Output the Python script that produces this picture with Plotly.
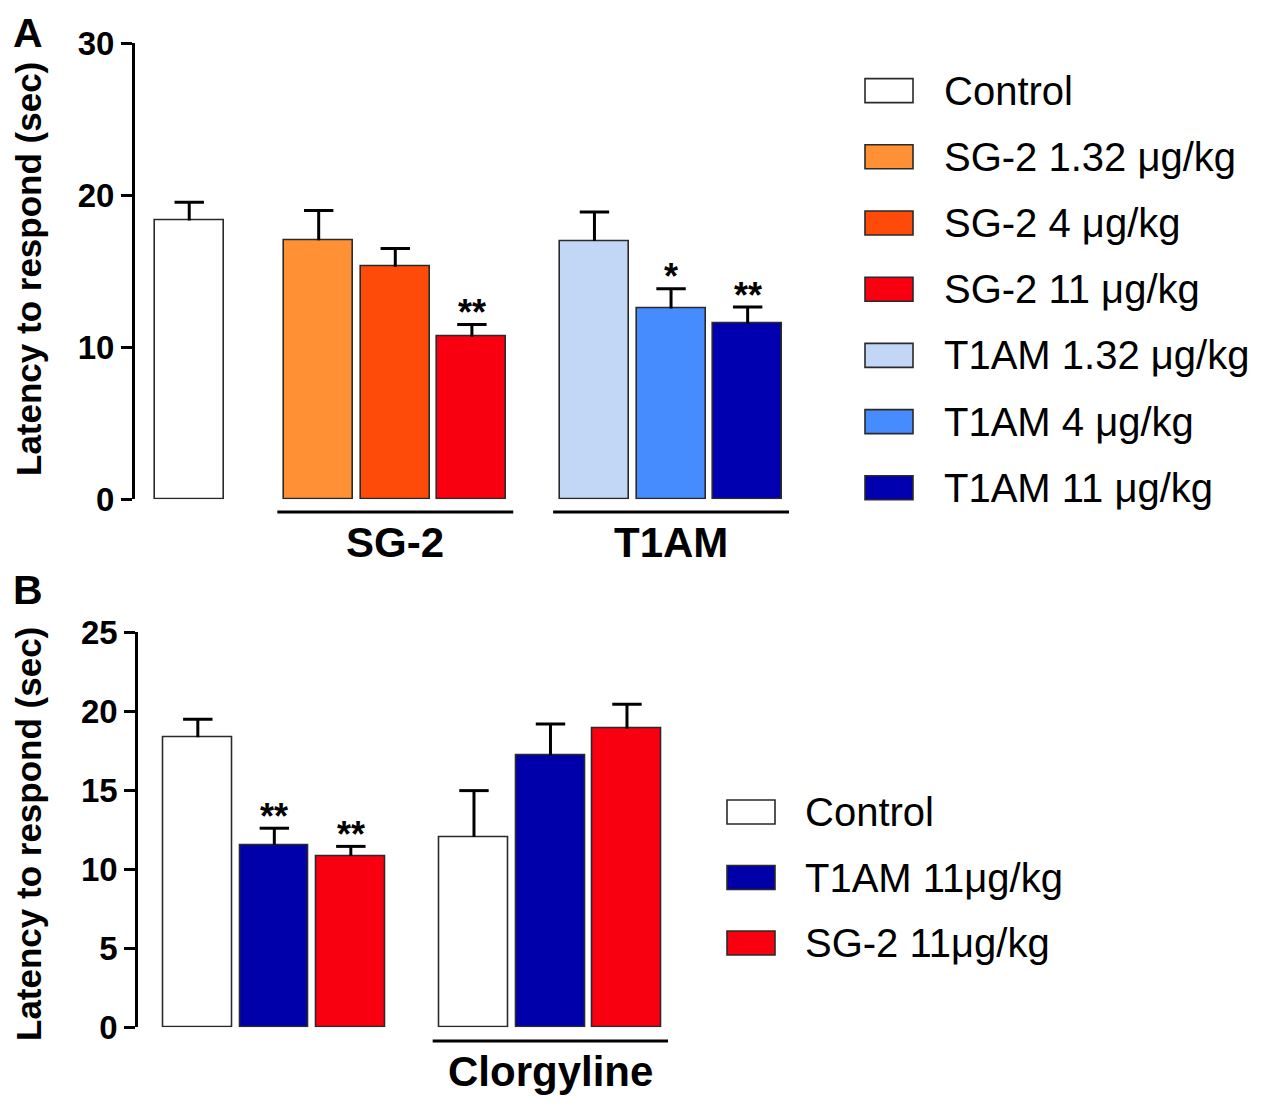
import plotly.graph_objects as go

W, H = 1267, 1107          # target picture size
OFF = 8                    # page body margin of the html page
FW, FH = W - 2 * OFF, H - 2 * OFF   # figure size
FONT = "Arial, Liberation Sans, Helvetica, sans-serif"

# ---------------- Data: panel A ----------------
a_labels = ["Control", "SG-2 1.32 μg/kg", "SG-2 4 μg/kg", "SG-2 11 μg/kg",
            "T1AM 1.32 μg/kg", "T1AM 4 μg/kg", "T1AM 11 μg/kg"]
a_groups = ["", "SG-2", "SG-2", "SG-2", "T1AM", "T1AM", "T1AM"]
a_means = [18.35, 17.05, 15.3, 10.7, 17.0, 12.55, 11.55]
a_sem = [1.2, 1.95, 1.2, 0.8, 1.9, 1.3, 1.1]
a_stars = ["", "", "", "**", "", "*", "**"]
a_colors = ["#FFFFFF", "#FF9033", "#FF4B0A", "#F8000F",
            "#C2D7F6", "#468CFF", "#0000B0"]
a_ticks = [0, 10, 20, 30]

# ---------------- Data: panel B ----------------
b_labels = ["Control", "T1AM 11μg/kg", "SG-2 11μg/kg",
            "Control", "T1AM 11μg/kg", "SG-2 11μg/kg"]
b_groups = ["", "", "", "Clorgyline", "Clorgyline", "Clorgyline"]
b_means = [18.35, 11.55, 10.85, 12.05, 17.2, 18.9]
b_sem = [1.15, 1.05, 0.6, 2.93, 2.0, 1.55]
b_stars = ["", "**", "**", "", "", ""]
b_colors = ["#FFFFFF", "#0000AA", "#F8000F", "#FFFFFF", "#0000AA", "#F8000F"]
b_ticks = [0, 5, 10, 15, 20, 25]
b_legend_labels = ["Control", "T1AM 11μg/kg", "SG-2 11μg/kg"]
b_legend_colors = ["#FFFFFF", "#0000AA", "#F8000F"]


def px(x):
    return (x - OFF) / FW


def py(y):
    return 1 - (y - OFF) / FH


def positions(groups, extra_gaps):
    """Bar centres: one unit per bar, extra space when the group changes."""
    pos, cur, gi = [], 0.0, 0
    for i, g in enumerate(groups):
        if i > 0:
            cur += 1.0
            if g != groups[i - 1]:
                cur += extra_gaps[gi]
                gi += 1
        pos.append(cur)
    return pos


a_pos = positions(a_groups, [0.69, 0.60])
b_pos = positions(b_groups, [0.61])

fig = go.Figure()

BAR_W = 0.9


def add_panel(pos, means, sem, colors, xa, ya):
    fig.add_trace(go.Bar(
        x=pos, y=means, width=BAR_W, xaxis=xa, yaxis=ya,
        marker=dict(color=colors, line=dict(color="#2a2a2a", width=1.6)),
        error_y=dict(type="data", symmetric=False, array=sem,
                     arrayminus=[0] * len(sem), thickness=3, width=0,
                     color="black"),
        showlegend=False, hoverinfo="skip"))
    fig.add_trace(go.Scatter(
        x=pos, y=[m + s for m, s in zip(means, sem)], mode="markers",
        xaxis=xa, yaxis=ya,
        marker=dict(symbol="line-ew", size=21,
                    line=dict(width=3, color="black")),
        showlegend=False, hoverinfo="skip"))


add_panel(a_pos, a_means, a_sem, a_colors, "x", "y")
add_panel(b_pos, b_means, b_sem, b_colors, "x2", "y2")

annotations = []
shapes = []

# significance stars
for pos, means, sem, stars, xr, yr in [
        (a_pos, a_means, a_sem, a_stars, "x", "y"),
        (b_pos, b_means, b_sem, b_stars, "x2", "y2")]:
    for p, m, s, st in zip(pos, means, sem, stars):
        if st:
            annotations.append(dict(
                x=p, y=m + s, xref=xr, yref=yr, text=st, showarrow=False,
                yanchor="middle", yshift=12,
                font=dict(family=FONT, size=36, color="black", weight="bold")))


# group underlines + labels
def group_marks(pos, groups, xr, yline, ylab):
    names = []
    for g in groups:
        if g and g not in names:
            names.append(g)
    for g in names:
        ps = [p for p, gg in zip(pos, groups) if gg == g]
        shapes.append(dict(type="line", xref=xr, yref="paper",
                           x0=min(ps) - 0.54, x1=max(ps) + 0.54,
                           y0=py(yline), y1=py(yline),
                           line=dict(color="black", width=3)))
        annotations.append(dict(
            x=sum(ps) / len(ps), y=py(ylab), xref=xr, yref="paper", text=g,
            showarrow=False, yanchor="middle",
            font=dict(family=FONT, size=42, color="black", weight="bold")))


group_marks(a_pos, a_groups, "x", 512, 543)
group_marks(b_pos, b_groups, "x2", 1041, 1071)

# y-axis titles
for yc in (269, 834):
    annotations.append(dict(
        x=px(28), y=py(yc), xref="paper", yref="paper",
        text="Latency to respond (sec)", textangle=-90, showarrow=False,
        xanchor="center", yanchor="middle",
        font=dict(family=FONT, size=35, color="black", weight="bold")))

# panel letters
annotations.append(dict(
    x=px(28), y=py(OFF), xref="paper", yref="paper", text="A",
    showarrow=False, xanchor="center", yanchor="top",
    font=dict(family=FONT, size=41, color="black", weight="bold")))
annotations.append(dict(
    x=px(28), y=py(590), xref="paper", yref="paper", text="B",
    showarrow=False, xanchor="center", yanchor="middle",
    font=dict(family=FONT, size=41, color="black", weight="bold")))


# legends (drawn swatches + text)
def legend(labels, colors, x_box, y_first, step, x_text):
    for i, (lab, col) in enumerate(zip(labels, colors)):
        yc = y_first + i * step
        shapes.append(dict(type="rect", xref="paper", yref="paper",
                           x0=px(x_box), x1=px(x_box + 48),
                           y0=py(yc - 12), y1=py(yc + 12),
                           fillcolor=col, line=dict(color="#2a2a2a", width=1.6)))
        annotations.append(dict(
            x=px(x_text), y=py(yc), xref="paper", yref="paper", text=lab,
            showarrow=False, xanchor="left", yanchor="middle",
            font=dict(family=FONT, size=40, color="black")))


legend(a_labels, a_colors, 865, 90.6, 66.2, 942)
legend(b_legend_labels, b_legend_colors, 727, 812, 65.5, 803)

axis_common = dict(showgrid=False, zeroline=False, showline=True,
                   linecolor="black", linewidth=3, ticks="outside",
                   ticklen=11, tickwidth=3, tickcolor="black",
                   automargin=False,
                   tickfont=dict(family=FONT, size=33, color="black",
                                 weight="bold"))

a_left = -0.708
a_pitch = 76.6
b_left = -0.778
b_pitch = 76.5

fig.update_layout(
    width=FW, height=FH,
    margin=dict(l=0, r=0, t=0, b=0, pad=0, autoexpand=False),
    plot_bgcolor="white", paper_bgcolor="white",
    showlegend=False, bargap=0,
    xaxis=dict(domain=[px(135), px(790)],
               range=[a_left, a_left + (790 - 135) / a_pitch],
               visible=False, anchor="y", automargin=False),
    yaxis=dict(domain=[py(499.3), py(43.3)], range=[0, 30],
               tickvals=a_ticks, anchor="x", **axis_common),
    xaxis2=dict(domain=[px(138.3), px(668)],
                range=[b_left, b_left + (668 - 138.3) / b_pitch],
                visible=False, anchor="y2", automargin=False),
    yaxis2=dict(domain=[py(1027.3), py(632.3)], range=[0, 25],
                tickvals=b_ticks, anchor="x2", **axis_common),
    annotations=annotations, shapes=shapes,
)

fig.write_html("out.html")
